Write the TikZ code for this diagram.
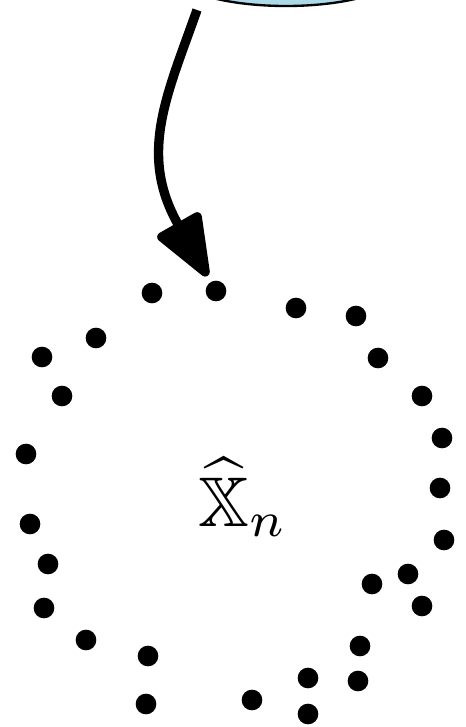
\documentclass[tikz,border=0pt]{standalone}
\usepackage{amsmath,amssymb}
\usepackage{tikz}
\usetikzlibrary{arrows.meta,shapes.geometric}
\definecolor{blobblue}{HTML}{ADD8E6}

\begin{document}
\begin{tikzpicture}[
    x=0.03cm, y=-0.03cm,
    blob/.style={draw=black, line width=0.07cm, ellipse, fill=blobblue,
                 inner sep=0pt, minimum width=6.9cm, minimum height=2.1cm},
    dot/.style={circle, fill=black, inner sep=0pt, minimum size=0.62cm},
    label/.style={scale=6, inner sep=0pt},
    bigarrow/.style={-{Triangle[length=2.1cm, width=1.55cm, round]}, line width=0.28cm,
                     shorten >=0.2cm}
]
\clip (0,0) rectangle (465,727);
\useasboundingbox (0,0) rectangle (465,727);

% --- source set, cut by the frame ---
\node[blob] (src) at (286,-29) {};
\coordinate (srcout) at (197,10);

% --- sample points ---
\foreach \p [count=\i] in {(152,293),(216,291),(296,308),(356,316),(96,338),
    (42,357),(378,358),(62,396),(422,396),(26,454),(442,438),(440,488),
    (30,524),(444,540),(48,564),(408,574),(372,584),(44,608),(422,606),
    (86,640),(360,646),(148,656),(308,678),(358,681),(252,700),(146,704),
    (308,714)}
    \node[dot] (d\i) at \p {};

\node[label] (xhat) at (243,497) {$\widehat{\mathbb{X}}_n$};

% --- sampling arrow ---
\draw[bigarrow] (srcout) .. controls (167,95) and (138,154) .. (d2);

\end{tikzpicture}
\end{document}
